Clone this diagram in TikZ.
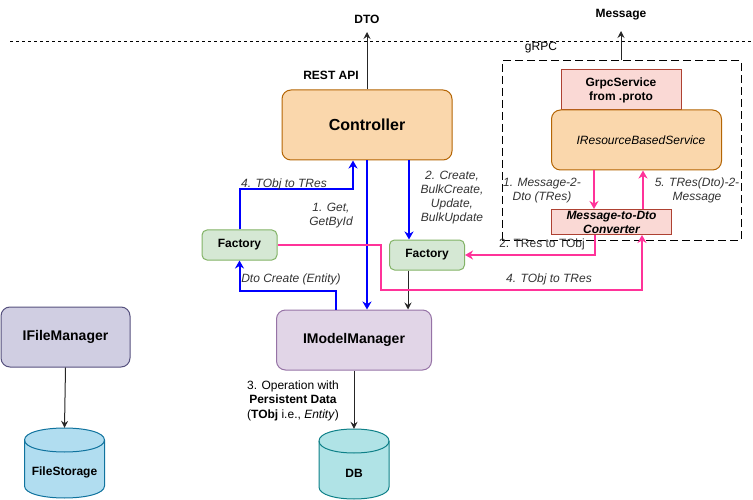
\documentclass[tikz,border=0pt]{standalone}
\usepackage{fontspec}
\setmainfont{Liberation Sans}
\usetikzlibrary{arrows.meta}
\definecolor{orfill}{HTML}{FAD7AC}
\definecolor{orline}{HTML}{B46504}
\definecolor{rdfill}{HTML}{FAD9D5}
\definecolor{rdline}{HTML}{AE4132}
\definecolor{gnfill}{HTML}{D5E8D4}
\definecolor{gnline}{HTML}{82B366}
\definecolor{pufill}{HTML}{E1D5E7}
\definecolor{puline}{HTML}{9673A6}
\definecolor{lvfill}{HTML}{D0CEE2}
\definecolor{lvline}{HTML}{56517E}
\definecolor{tlfill}{HTML}{B0E3E6}
\definecolor{tlline}{HTML}{0E8088}
\definecolor{skfill}{HTML}{B1DDF0}
\definecolor{skline}{HTML}{10739E}
\definecolor{pinkc}{HTML}{FF3399}
\definecolor{bluec}{HTML}{0000FF}
\definecolor{lblc}{HTML}{333333}
\begin{document}
\begin{tikzpicture}[x=1pt,y=-1pt,
  f12/.style={font=\fontsize{12}{14}\selectfont},
  nbox/.style={draw, line width=1pt, inner sep=0pt, align=center, font=\fontsize{12}{14}\selectfont\bfseries},
  rnbox/.style={nbox, rounded corners=9pt},
  snbox/.style={nbox, rounded corners=5pt},
  lbl/.style={text=lblc, align=center, inner sep=0pt, font=\fontsize{12}{14}\selectfont\itshape},
  thinarr/.style={draw=black!85, line width=1pt, -{Stealth[length=7pt,width=7pt,inset=2.5pt]}},
  bluearr/.style={draw=bluec, line width=2pt, -{Stealth[length=8pt,width=9pt,inset=2.5pt]}},
  pinkarr/.style={draw=pinkc, line width=2pt, -{Stealth[length=8pt,width=9pt,inset=2.5pt]}},
  cyl/.style={line width=1pt}
]
\useasboundingbox (0,0) rectangle (753,500);

% separator
\draw[line width=1pt, dash pattern=on 3pt off 3pt] (10,42) -- (753,42);

% top labels
\node[f12, font=\fontsize{12}{14}\selectfont\bfseries, inner sep=0pt] (dto) at (367,19) {DTO};
\coordinate (dtotip) at (367,32);
\node[f12, font=\fontsize{12}{14}\selectfont\bfseries, inner sep=0pt] (restapi) at (331,75) {REST API};
\node[f12, font=\fontsize{12}{14}\selectfont\bfseries, inner sep=0pt] (msg) at (621,15) {Message};
\coordinate (msgtip) at (621,31);
\node[f12, inner sep=0pt] (grpclbl) at (541,48) {gRPC};

% gRPC group
\node[draw, line width=1pt, dash pattern=on 8pt off 4pt, minimum width=239pt, minimum height=179pt, inner sep=0pt] (gbox) at (621.5,150.5) {};

% nodes
\node[rnbox, fill=orfill, draw=orline, minimum width=170pt, minimum height=70pt, font=\fontsize{16}{18}\selectfont\bfseries] (ctrl) at (367,125) {Controller};
\node[nbox, fill=rdfill, draw=rdline, minimum width=120pt, minimum height=40pt] (grpc) at (621,90) {GrpcService\\from .proto};
\node[rnbox, fill=orfill, draw=orline, minimum width=170pt, minimum height=60pt, font=\fontsize{12}{14}\selectfont\itshape] (irbs) at (636.5,140) {\hspace*{9pt}IResourceBasedService};
\node[nbox, fill=rdfill, draw=rdline, minimum width=120pt, minimum height=25pt, font=\fontsize{12}{14}\selectfont\bfseries\itshape] (conv) at (611.5,222) {Message-to-Dto\\Converter};
\node[snbox, fill=gnfill, draw=gnline, minimum width=75pt, minimum height=30pt] (fac1) at (239.5,245) {Factory};
\node[snbox, fill=gnfill, draw=gnline, minimum width=75pt, minimum height=30pt] (fac2) at (427,255) {Factory};
\node[rnbox, fill=pufill, draw=puline, minimum width=155pt, minimum height=60pt, font=\fontsize{14}{16}\selectfont\bfseries] (imm) at (354,340) {IModelManager};
\node[rnbox, fill=lvfill, draw=lvline, minimum width=129pt, minimum height=60pt, font=\fontsize{14}{16}\selectfont\bfseries] (ifm) at (65.5,337) {IFileManager};

% cylinders
\node[minimum width=70pt, minimum height=70pt, inner sep=0pt] (db) at (354,464) {};
\draw[cyl, fill=tlfill, draw=tlline] (319,441) -- (319,487) .. controls (319,503) and (389,503) .. (389,487) -- (389,441) .. controls (389,425) and (319,425) .. (319,441) -- cycle;
\draw[cyl, draw=tlline] (319,441) .. controls (319,457) and (389,457) .. (389,441);
\node[nbox, draw=none] (dbtext) at (354,473) {DB};

\node[minimum width=80pt, minimum height=70pt, inner sep=0pt] (fs) at (64.5,463) {};
\draw[cyl, fill=skfill, draw=skline] (24.5,440) -- (24.5,486) .. controls (24.5,502) and (104.5,502) .. (104.5,486) -- (104.5,440) .. controls (104.5,424) and (24.5,424) .. (24.5,440) -- cycle;
\draw[cyl, draw=skline] (24.5,440) .. controls (24.5,456) and (104.5,456) .. (104.5,440);
\node[nbox, draw=none] (fstext) at (64.5,472) {FileStorage};

% black connectors
\draw[thinarr] (ctrl.north) -- (dtotip);
\draw[thinarr] (gbox.north -| msgtip) -- (msgtip);
\draw[thinarr] ([xshift=-19pt]fac2.south) coordinate (f2s) -- (f2s |- imm.north);
\draw[thinarr] (imm.south) -- (db.north);
\draw[thinarr] (ifm.south) -- (fs.north);

% blue connectors
\draw[bluearr] (fac1.north) -- ++(0,-40) -| ([xshift=-14pt]ctrl.south);
\draw[bluearr] (ctrl.south) -- (ctrl.south |- imm.north);
\draw[bluearr] ([xshift=42pt]ctrl.south) coordinate (c2) -- (c2 |- fac2.north);
\draw[bluearr] ([xshift=-18pt]imm.north) -- ++(0,-19) -| (fac1.south);

% pink connectors
\draw[pinkarr] ([xshift=-42.5pt]irbs.south) coordinate (p1) -- (p1 |- conv.north);
\draw[pinkarr] ([xshift=31.5pt]conv.north) coordinate (p2) -- (p2 |- irbs.south);
\draw[pinkarr] ([xshift=-16.5pt]conv.south) |- (fac2.east);
\coordinate (pk1) at (381,290);
\draw[pinkarr] (fac1.east) -| (pk1) -| ([xshift=30.5pt]conv.south);

% labels
\node[lbl] (l1) at (284,184) {4. TObj to TRes};
\node[lbl] (l2) at (331,215.5) {1. Get,\\GetById};
\node[lbl] (l3) at (452,197.5) {2. Create,\\BulkCreate,\\Update,\\BulkUpdate};
\node[lbl] (l4) at (291,279) {Dto Create (Entity)};
\node[lbl, font=\fontsize{12}{14}\selectfont] (l5) at (542,244) {2. TRes to TObj};
\node[lbl] (l6) at (549,279) {4. TObj to TRes};
\node[lbl] (l7) at (542,190.5) {1. Message-2-\\Dto (TRes)};
\node[lbl] (l8) at (697,190.5) {5. TRes(Dto)-2-\\Message};
\node[lbl, text=black, font=\fontsize{12}{14.5}\selectfont] (l9) at (293,400.5) {3. Operation with\\\textbf{Persistent Data}\\(\textbf{TObj} i.e., \textit{Entity})};
\end{tikzpicture}
\end{document}
